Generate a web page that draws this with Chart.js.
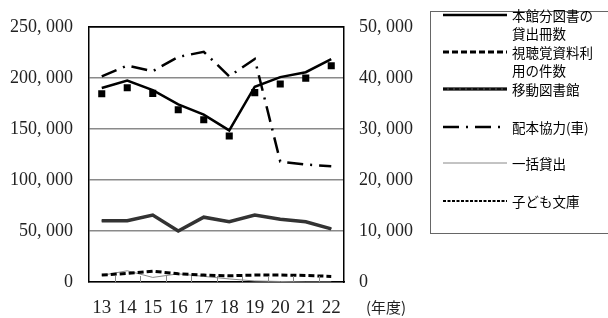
<!DOCTYPE html>
<html><head><meta charset="utf-8">
<script src="https://cdn.jsdelivr.net/npm/chart.js@4/dist/chart.umd.min.js"></script>
<style>html,body{margin:0;padding:0;background:#fff;}#wrap{width:608px;height:318px;position:relative;}</style>
</head><body><div id="wrap"><canvas id="c" width="608" height="318"></canvas></div>
<script>
const categories = ['13','14','15','16','17','18','19','20','21','22'];
// left axis (冊/件)
const honkan = [190000,197400,188000,174000,164000,148500,191300,200700,205500,218400];
const honkanMarks = [184500,190300,184800,168800,159000,143000,185500,194000,199700,211900];
const shichokaku = [6800,8400,10600,8000,6800,6100,6800,6800,6400,5500];
const ikkatsu = [6500,11000,4500,8000,5500,3000,1000,500,0,0];
// right axis
const idoTosho = [12000,12000,13100,10000,12700,11800,13100,12300,11800,10400];
const haihon = [40300,42400,41300,44100,45100,40300,43700,23600,23000,22700];
const kodomo = [12000,12000,13100,10000,12700,11800,13100,12300,11800,10400];
const leftTicks = [0,50000,100000,150000,200000,250000];
const rightTicks = [0,10000,20000,30000,40000,50000];
const legendNames = [['本館分図書の','貸出冊数'],['視聴覚資料利','用の件数'],['移動図書館'],['配本協力(車)'],['一括貸出'],['子ども文庫']];
const unitLabel = '(年度)';

function fmt(v){ if(v===0) return '0'; const s=String(v); return s.slice(0,s.length-3)+', '+s.slice(-3); }

const datasets = [
  {label:legendNames[0].join(''), data:honkan, yAxisID:'y', borderColor:'#000', borderWidth:2.5, pointRadius:0, tension:0},
  {label:legendNames[1].join(''), data:shichokaku, yAxisID:'y', borderColor:'#000', borderWidth:3, borderDash:[6,3], pointRadius:0},
  {label:legendNames[2].join(''), data:idoTosho, yAxisID:'y1', borderColor:'#333', borderWidth:3.5, pointRadius:0},
  {label:legendNames[3].join(''), data:haihon, yAxisID:'y1', borderColor:'#000', borderWidth:2.5, borderDash:[16,7,2,7], pointRadius:0},
  {label:legendNames[4].join(''), data:ikkatsu, yAxisID:'y', borderColor:'#888', borderWidth:1, pointRadius:0},
  {label:legendNames[5].join(''), data:kodomo, yAxisID:'y1', borderColor:'#000', borderWidth:1.8, borderDash:[3,1.5], pointRadius:0},
  {label:'', data:honkanMarks, yAxisID:'y', showLine:false, pointStyle:'rect', pointRadius:5, pointBackgroundColor:'#000', pointBorderColor:'#000', borderWidth:0, inLegend:false}
];

const legendYs = [15,52,89,127,163,201];

const customPlugin = {
  id:'custom',
  afterDraw(chart){
    const ctx = chart.ctx;
    const x = chart.scales.x;
    const a = chart.chartArea;
    ctx.save();
    ctx.strokeStyle = '#888'; ctx.lineWidth = 1;
    for(let i=0;i<categories.length-1;i++){
      const px = Math.round((x.getPixelForValue(i)+x.getPixelForValue(i+1))/2)+0.5;
      ctx.beginPath(); ctx.moveTo(px,a.bottom); ctx.lineTo(px,a.bottom-6); ctx.stroke();
    }
    ctx.strokeStyle='#000'; ctx.lineWidth=1.5;
    ctx.beginPath(); ctx.moveTo(a.left,a.top); ctx.lineTo(a.right,a.top); ctx.stroke();
    ctx.fillStyle='#222'; ctx.font='15px "Noto Sans CJK JP"'; ctx.textBaseline='middle'; ctx.textAlign='left';
    ctx.fillText(unitLabel, 366, 307);
    ctx.strokeStyle='#666'; ctx.lineWidth=1;
    ctx.strokeRect(430.5, 11.5, 200, 222);
    ctx.font='13.5px "Noto Sans CJK JP"'; ctx.fillStyle='#000';
    chart.data.datasets.forEach((ds,i)=>{
      if(ds.inLegend===false) return;
      const y = legendYs[i];
      ctx.save();
      ctx.strokeStyle = ds.borderColor; ctx.lineWidth = ds.borderWidth;
      ctx.setLineDash(ds.borderDash||[]);
      ctx.beginPath(); ctx.moveTo(443,y); ctx.lineTo(507,y); ctx.stroke();
      if(i===2){ ctx.strokeStyle='#000'; ctx.lineWidth=1.5; ctx.setLineDash([4,2]); ctx.beginPath(); ctx.moveTo(443,y); ctx.lineTo(507,y); ctx.stroke(); }
      ctx.restore();
      legendNames[i].forEach((t,k)=>{ ctx.fillText(t, 512, y+1+k*18); });
    });
    ctx.restore();
  }
};

new Chart(document.getElementById('c'), {
  type:'line',
  data:{labels:categories, datasets:datasets},
  plugins:[customPlugin],
  options:{
    responsive:false, animation:false, devicePixelRatio:1,
    layout:{padding:{top:23, right:178, bottom:0, left:0}},
    plugins:{legend:{display:false}, tooltip:{enabled:false}},
    elements:{line:{tension:0}},
    scales:{
      x:{offset:true, grid:{display:false, drawTicks:false}, border:{color:'#000', width:1.5},
         ticks:{color:'#222', font:{family:'"Liberation Serif"', size:19}, padding:15, maxRotation:0, autoSkip:false},
         afterFit(s){ s.height=36; }},
      y:{position:'left', min:0, max:250000, afterBuildTicks(s){ s.ticks = leftTicks.map(v=>({value:v})); },
         grid:{drawTicks:false, color:(c)=> c.tick && c.tick.value===250000 ? '#000' : '#8a8a8a', lineWidth:1.5},
         border:{color:'#000', width:1.5},
         ticks:{color:'#222', font:{family:'"Liberation Serif"', size:18}, padding:16, callback:(v)=>fmt(v)},
         afterFit(s){ s.width=89; }},
      y1:{position:'right', min:0, max:50000, afterBuildTicks(s){ s.ticks = rightTicks.map(v=>({value:v})); },
         grid:{display:false, drawTicks:false}, border:{color:'#000', width:1.5},
         ticks:{color:'#222', font:{family:'"Liberation Serif"', size:18}, padding:15, callback:(v)=>fmt(v)},
         afterFit(s){ s.width=86; }}
    }
  }
});
</script></body></html>
